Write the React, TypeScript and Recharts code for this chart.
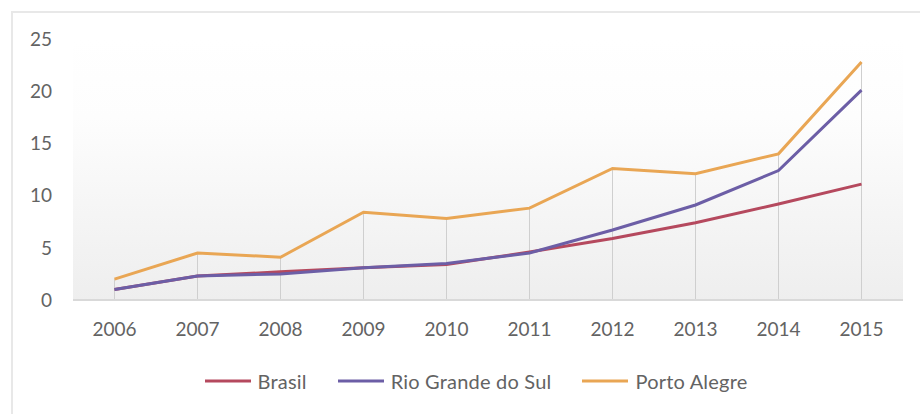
import React from 'react';
import { LineChart, Line, XAxis, YAxis, CartesianGrid, ReferenceLine, Legend } from 'recharts';

const years = ['2006', '2007', '2008', '2009', '2010', '2011', '2012', '2013', '2014', '2015'];
const brasil = [1.0, 2.3, 2.7, 3.1, 3.4, 4.6, 5.9, 7.4, 9.2, 11.1];
const rioGrande = [1.0, 2.3, 2.5, 3.1, 3.5, 4.5, 6.7, 9.1, 12.4, 20.1];
const portoAlegre = [2.0, 4.5, 4.1, 8.4, 7.8, 8.8, 12.6, 12.1, 14.0, 22.8];
const yTicks = [0, 5, 10, 15, 20, 25];

const series = [
  { key: 'brasil', name: 'Brasil', color: '#b5495e' },
  { key: 'rioGrande', name: 'Rio Grande do Sul', color: '#6c5ea6' },
  { key: 'portoAlegre', name: 'Porto Alegre', color: '#e9a654' },
];

const data = years.map((year, i) => ({
  year,
  brasil: brasil[i],
  rioGrande: rioGrande[i],
  portoAlegre: portoAlegre[i],
  top: Math.max(brasil[i], rioGrande[i], portoAlegre[i]),
}));

const FONT = 'Lato, "Open Sans", sans-serif';
const TEXT = '#636363';

const LegendContent = () => (
  <div
    style={{
      height: 40,
      display: 'flex',
      alignItems: 'center',
      justifyContent: 'center',
      paddingLeft: 32,
      fontFamily: FONT,
      fontSize: 20,
      color: TEXT,
      boxSizing: 'border-box',
    }}
  >
    {series.map((s, i) => (
      <div key={s.key} style={{ display: 'flex', alignItems: 'center', marginLeft: i === 0 ? 0 : 31 }}>
        <svg width={46} height={4} style={{ marginRight: 7 }}>
          <line x1={0} y1={2} x2={46} y2={2} stroke={s.color} strokeWidth={3} />
        </svg>
        <span style={{ letterSpacing: 0.2 }}>{s.name}</span>
      </div>
    ))}
  </div>
);

export default function App() {
  return (
    <div style={{ position: 'relative', width: 920, height: 414, overflow: 'hidden', background: '#fff' }}>
      <style>{'body{margin:0}'}</style>
      <div
        style={{
          position: 'absolute',
          left: 11,
          top: 11,
          width: 1000,
          height: 1000,
          border: '2px solid #e8e8e8',
        }}
      />
      <div style={{ position: 'absolute', left: 0, top: 0 }}>
        <LineChart width={920} height={414} data={data} margin={{ top: 39, right: 17, left: 0, bottom: 13 }}>
          <defs>
            <linearGradient id="plotBg" x1="0" y1="0" x2="0" y2="1">
              <stop offset="0%" stopColor="#ffffff" />
              <stop offset="30%" stopColor="#fdfdfd" />
              <stop offset="100%" stopColor="#eeeeee" />
            </linearGradient>
          </defs>
          <CartesianGrid horizontal={false} vertical={false} fill="url(#plotBg)" stroke="none" />
          <XAxis
            dataKey="year"
            scale="band"
            height={61}
            tickLine={false}
            tickSize={0}
            tickMargin={23}
            axisLine={{ stroke: '#d9d9d9', strokeWidth: 2 }}
            tick={{ fill: TEXT, fontSize: 19, fontFamily: FONT }}
            interval={0}
          />
          <YAxis
            width={73}
            domain={[0, 25]}
            ticks={yTicks}
            tickLine={false}
            tickSize={0}
            tickMargin={21}
            axisLine={false}
            tick={{ fill: TEXT, fontSize: 19, fontFamily: FONT }}
          />
          {data.map((d) => (
            <ReferenceLine
              key={d.year}
              segment={[
                { x: d.year, y: 0 },
                { x: d.year, y: d.top },
              ]}
              stroke="#cfcfcf"
              strokeWidth={1}
            />
          ))}
          {series.map((s) => (
            <Line
              key={s.key}
              type="linear"
              dataKey={s.key}
              name={s.name}
              stroke={s.color}
              strokeWidth={3}
              dot={false}
              activeDot={false}
              isAnimationActive={false}
            />
          ))}
          <Legend
            verticalAlign="bottom"
            content={<LegendContent />}
            wrapperStyle={{ left: 0, width: 920 }}
          />
        </LineChart>
      </div>
    </div>
  );
}
